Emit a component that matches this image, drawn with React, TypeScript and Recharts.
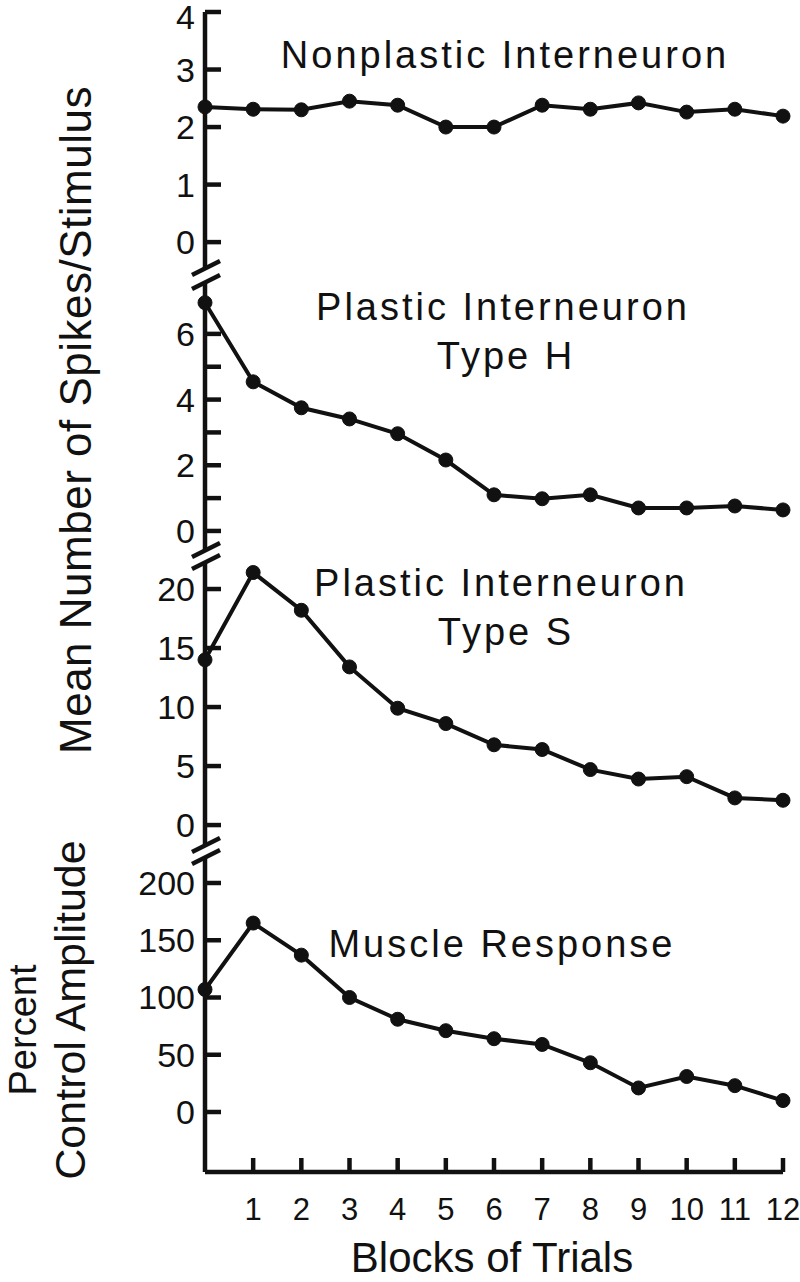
import React from "react";
import { LineChart, Line, XAxis, YAxis } from "recharts";

// blocks of trials (x) and the four recorded series
const blocks = [0, 1, 2, 3, 4, 5, 6, 7, 8, 9, 10, 11, 12];
const nonplastic = [2.35, 2.31, 2.3, 2.45, 2.38, 2.0, 2.0, 2.38, 2.31, 2.42, 2.26, 2.31, 2.19];
const typeH = [6.95, 4.54, 3.75, 3.41, 2.96, 2.16, 1.1, 0.98, 1.1, 0.7, 0.7, 0.76, 0.64];
const typeS = [14.0, 21.4, 18.2, 13.4, 9.9, 8.6, 6.8, 6.4, 4.7, 3.9, 4.1, 2.3, 2.1];
const muscle = [107, 165, 137, 100, 81, 71, 64, 59, 43, 21, 31, 23, 10];

const xTicks = [1, 2, 3, 4, 5, 6, 7, 8, 9, 10, 11, 12];
const nonplasticTicks = [0, 1, 2, 3, 4];
const typeHTicks = [0, 1, 2, 3, 4, 5, 6];
const typeSTicks = [0, 5, 10, 15, 20];
const muscleTicks = [0, 50, 100, 150, 200];

const data = blocks.map((b, i) => ({
  block: b,
  nonplastic: nonplastic[i],
  typeH: typeH[i],
  typeS: typeS[i],
  muscle: muscle[i],
}));

const INK = "#111";
const FONT = "'Liberation Sans', Arial, Helvetica, sans-serif";
const AXIS_W = 205;
const PAD = 20;
const STROKE = 4.5;

const YTick = (props: any) => {
  const { x, y, payload, evenOnly } = props;
  const show = !evenOnly || payload.value % 2 === 0;
  // the label at the very top of the figure sits a little low so it stays on the page
  const dy = y < 30 ? 17 : 12;
  return (
    <g>
      <line x1={x} y1={y} x2={x + 16} y2={y} stroke={INK} strokeWidth={STROKE} />
      {show && (
        <text x={x - 10} y={y} dy={dy} textAnchor="end" fontSize={34} fontFamily={FONT} fill={INK}>
          {payload.value}
        </text>
      )}
    </g>
  );
};

const XTick = (props: any) => {
  const { x, y, payload } = props;
  return (
    <g>
      <line x1={x} y1={y} x2={x} y2={y - 14} stroke={INK} strokeWidth={STROKE} />
      <text x={x} y={y + 48} textAnchor="middle" fontSize={31} fontFamily={FONT} fill={INK}>
        {payload.value}
      </text>
    </g>
  );
};

type PanelProps = {
  dataKey: string;
  plotTop: number;
  plotBottom: number;
  domain: [number, number];
  ticks: number[];
  evenOnly?: boolean;
  bottomAxis?: boolean;
};

function Panel({ dataKey, plotTop, plotBottom, domain, ticks, evenOnly, bottomAxis }: PanelProps) {
  const xAxisH = bottomAxis ? 110 : 0;
  const height = plotBottom - plotTop + PAD + (bottomAxis ? xAxisH : PAD);
  return (
    <div style={{ position: "absolute", left: 0, top: plotTop - PAD }}>
      <LineChart
        width={800}
        height={height}
        data={data}
        margin={{ top: PAD, right: 17, bottom: bottomAxis ? 0 : PAD, left: 0 }}
        style={{ overflow: "visible" }}
      >
        {bottomAxis ? (
          <XAxis
            type="number"
            dataKey="block"
            domain={[0, 12]}
            ticks={xTicks}
            interval={0}
            height={xAxisH}
            tickSize={0}
            tickMargin={0}
            tickLine={false}
            axisLine={{ stroke: INK, strokeWidth: STROKE }}
            tick={(p: any) => <XTick {...p} />}
          />
        ) : (
          <XAxis type="number" dataKey="block" domain={[0, 12]} hide height={0} />
        )}
        <YAxis
          type="number"
          domain={domain}
          ticks={ticks}
          interval={0}
          width={AXIS_W}
          tickSize={0}
          tickMargin={0}
          tickLine={false}
          axisLine={{ stroke: INK, strokeWidth: STROKE }}
          tick={(p: any) => <YTick {...p} evenOnly={evenOnly} />}
        />
        <Line
          type="linear"
          dataKey={dataKey}
          stroke={INK}
          strokeWidth={4}
          dot={{ r: 7, fill: INK, stroke: INK, strokeWidth: 1 }}
          isAnimationActive={false}
        />
      </LineChart>
    </div>
  );
}

const breaks = [268, 282, 550, 562, 845, 857];

export default function App() {
  const titleStyle = { fontFamily: FONT, fontSize: 38, letterSpacing: 3, fill: INK } as const;
  return (
    <div style={{ position: "absolute", left: 0, top: 0, width: 800, height: 1282, background: "#fff" }}>
      <Panel dataKey="nonplastic" plotTop={12} plotBottom={268} domain={[-0.45, 4]} ticks={nonplasticTicks} />
      <Panel dataKey="typeH" plotTop={282} plotBottom={550} domain={[-0.58, 7.58]} ticks={typeHTicks} evenOnly />
      <Panel dataKey="typeS" plotTop={562} plotBottom={845} domain={[-1.69, 22.29]} ticks={typeSTicks} />
      <Panel dataKey="muscle" plotTop={857} plotBottom={1172} domain={[-52.4, 222.7]} ticks={muscleTicks} bottomAxis />
      <svg
        width={800}
        height={1282}
        style={{ position: "absolute", left: 0, top: 0, pointerEvents: "none" }}
      >
        {breaks.map((y) => (
          <line key={y} x1={192} y1={y + 7} x2={220} y2={y - 7} stroke={INK} strokeWidth={STROKE} />
        ))}
        <text x={505} y={68} textAnchor="middle" {...titleStyle}>Nonplastic Interneuron</text>
        <text x={503} y={320} textAnchor="middle" {...titleStyle}>Plastic Interneuron</text>
        <text x={506} y={369} textAnchor="middle" {...titleStyle}>Type H</text>
        <text x={501} y={596} textAnchor="middle" {...titleStyle}>Plastic Interneuron</text>
        <text x={506} y={645} textAnchor="middle" {...titleStyle}>Type S</text>
        <text x={502} y={957} textAnchor="middle" {...titleStyle}>Muscle Response</text>
        <text x={492} y={1272} textAnchor="middle" fontFamily={FONT} fontSize={42} fill={INK}>
          Blocks of Trials
        </text>
        <text
          transform="translate(91,420) rotate(-90)"
          textAnchor="middle"
          fontFamily={FONT}
          fontSize={44}
          letterSpacing={0.5}
          fill={INK}
        >
          Mean Number of Spikes/Stimulus
        </text>
        <text transform="translate(36,1030) rotate(-90)" textAnchor="middle" fontFamily={FONT} fontSize={38} fill={INK}>
          Percent
        </text>
        <text transform="translate(85,1010) rotate(-90)" textAnchor="middle" fontFamily={FONT} fontSize={43} fill={INK}>
          Control Amplitude
        </text>
      </svg>
    </div>
  );
}
